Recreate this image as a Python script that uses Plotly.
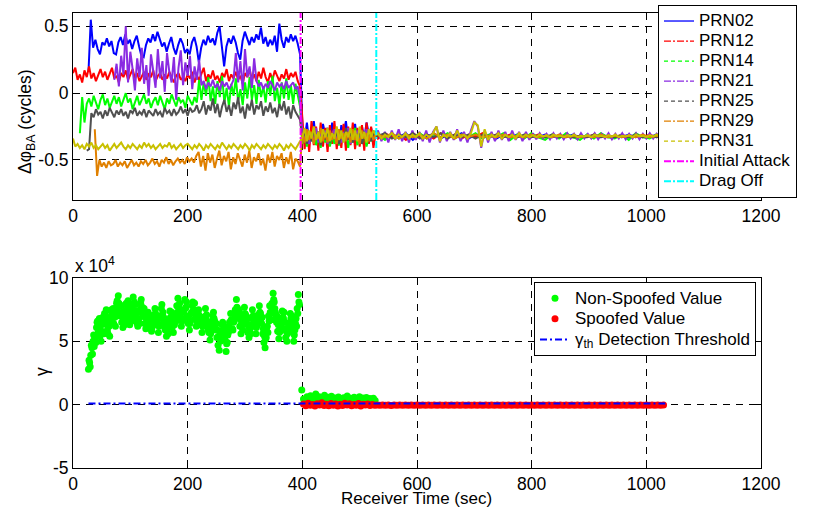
import numpy as np
import plotly.graph_objects as go

# ---------------- data ----------------
prn_names = ['PRN02', 'PRN12', 'PRN14', 'PRN21', 'PRN25', 'PRN29', 'PRN31']
prn_start = [27, 0, 12, 72, 24, 38, 0]          # first sample time of each PRN (s)
pre_end, att_start, att_end, post_start, post_end = 396, 400, 528, 532, 1030
attack_time = 397
dragoff_time = 529

prn02_pre = [0.16, 0.55, 0.34, 0.40, 0.33, 0.29, 0.38, 0.36, 0.41, 0.35,
             0.39, 0.30, 0.29, 0.38, 0.42, 0.36, 0.44, 0.37, 0.40, 0.33,
             0.39, 0.43, 0.35, 0.28, 0.27, 0.36, 0.41, 0.38, 0.44, 0.39,
             0.46, 0.40, 0.35, 0.38, 0.31, 0.37, 0.42, 0.34, 0.29, 0.36,
             0.41, 0.37, 0.30, 0.33, 0.29, 0.38, 0.42, 0.35, 0.23, 0.34,
             0.40, 0.36, 0.43, 0.38, 0.41, 0.36, 0.45, 0.50, 0.33, 0.20,
             0.35, 0.41, 0.37, 0.43, 0.38, 0.30, 0.25, 0.39, 0.46, 0.40,
             0.36, 0.42, 0.38, 0.44, 0.40, 0.49, 0.37, 0.42, 0.35, 0.40,
             0.36, 0.43, 0.31, 0.52, 0.40, 0.34, 0.42, 0.38, 0.44, 0.39,
             0.43, 0.37, 0.29]
prn12_pre = [0.15, 0.19, 0.10, 0.14, 0.08, 0.17, 0.12, 0.20, 0.11, 0.15,
             0.09, 0.13, 0.18, 0.12, 0.16, 0.10, 0.14, 0.19, 0.11, 0.13,
             0.08, 0.15, 0.12, 0.17, 0.10, 0.14, 0.18, 0.11, 0.15, 0.09,
             0.13, 0.16, 0.10, 0.14, 0.12, 0.17, 0.09, 0.13, 0.15, 0.10,
             0.14, 0.11, 0.16, 0.12, 0.08, 0.13, 0.15, 0.10, 0.12, 0.09,
             0.14, 0.11, 0.16, 0.08, 0.13, 0.10, 0.15, 0.19, 0.09, 0.14,
             0.11, 0.17, 0.10, 0.13, 0.08, 0.15, 0.12, 0.18, 0.09, 0.14,
             0.11, 0.16, 0.10, 0.13, 0.07, 0.15, 0.12, 0.18, 0.10, 0.14,
             0.09, 0.16, 0.11, 0.19, 0.12, 0.08, 0.15, 0.10, 0.17, 0.13,
             0.09, 0.14, 0.11, 0.18, 0.10, 0.15, 0.12, 0.16, 0.09, 0.05]
prn14_pre = [-0.30, -0.03, -0.22, -0.08, -0.04, -0.10, -0.02, -0.07, -0.12, -0.05,
             -0.01, -0.09, -0.04, -0.11, -0.06, -0.02, -0.08, -0.03, -0.10, -0.05,
             0.00, -0.07, -0.04, -0.12, -0.06, -0.02, -0.09, -0.05, -0.01, -0.08,
             -0.04, -0.11, -0.06, -0.03, -0.09, -0.02, -0.07, -0.12, -0.04, -0.08,
             -0.01, -0.06, -0.10, -0.03, -0.07, -0.05, -0.11, -0.02, -0.06, -0.09,
             -0.03, -0.07, 0.10, -0.05, 0.08, -0.02, 0.12, -0.06, 0.05, -0.08,
             0.09, -0.03, 0.13, -0.07, 0.04, -0.10, 0.07, -0.02, 0.11, -0.06,
             0.03, -0.09, 0.08, -0.04, 0.12, -0.05, 0.06, -0.08, 0.10, -0.03,
             0.05, -0.07, 0.09, -0.02, 0.13, -0.06, 0.04, -0.09, 0.08, -0.04,
             0.11, -0.05, 0.06, -0.08, 0.07, -0.03, -0.10]
prn21_pre = [0.10, 0.22, 0.05, 0.28, 0.14, 0.50, 0.08, 0.31, 0.18, 0.02,
             0.26, 0.12, 0.34, 0.07, 0.21, -0.02, 0.29, 0.15, 0.04, 0.33,
             0.11, 0.24, 0.01, 0.30, 0.16, 0.08, 0.27, -0.05, 0.19, 0.32,
             0.06, 0.23, 0.13, 0.28, 0.03, 0.20, 0.10, 0.25,
             0.06, 0.09, 0.03, 0.08, 0.05, 0.10, 0.04, 0.07, 0.02, 0.09, 0.05, 0.08, 0.03, 0.06, 0.10,
             0.30, 0.08, 0.24, 0.02, 0.33, 0.12, 0.20, 0.04, 0.26, 0.09,
             0.05, 0.08, 0.03, 0.07, 0.04, 0.09, 0.06, 0.02, 0.08, 0.05,
             0.07, 0.03, 0.09, 0.04, 0.06, 0.08, 0.03, 0.05, -0.05]
prn25_pre = [-0.43, -0.42, -0.15, -0.18, -0.12, -0.16, -0.14, -0.19, -0.13, -0.17,
             -0.11, -0.15, -0.18, -0.13, -0.16, -0.12, -0.17, -0.14, -0.19, -0.13,
             -0.15, -0.11, -0.17, -0.14, -0.16, -0.12, -0.18, -0.13, -0.15, -0.17,
             -0.12, -0.16, -0.14, -0.18, -0.11, -0.15, -0.13, -0.17, -0.12, -0.16,
             -0.14, -0.10, -0.15, -0.12, -0.17, -0.11, -0.14, -0.13, -0.09, -0.15,
             -0.12, -0.06, -0.16, -0.09, -0.13, -0.04, -0.15, -0.08, -0.18, -0.10,
             -0.05, -0.14, -0.09, -0.17, -0.07, -0.12, -0.03, -0.15, -0.10, -0.19,
             -0.08, -0.13, -0.05, -0.16, -0.09, -0.12, -0.06, -0.17, -0.10, -0.14,
             -0.07, -0.15, -0.11, -0.18, -0.08, -0.13, -0.06, -0.16, -0.10, -0.19,
             -0.09, -0.14, -0.17, -0.20]
prn29_pre = [-0.27, -0.62, -0.50, -0.55, -0.52, -0.56, -0.51, -0.54, -0.53, -0.50,
             -0.55, -0.52, -0.54, -0.51, -0.56, -0.53, -0.50, -0.54, -0.52, -0.55,
             -0.51, -0.53, -0.50, -0.54, -0.52, -0.49, -0.53, -0.51, -0.55, -0.50,
             -0.52, -0.48, -0.53, -0.50, -0.54, -0.51, -0.49, -0.52, -0.50, -0.53,
             -0.48, -0.51, -0.49, -0.52, -0.47, -0.44, -0.55, -0.47, -0.58, -0.45,
             -0.52, -0.46, -0.56, -0.49, -0.43, -0.54, -0.47, -0.51, -0.44, -0.57,
             -0.48, -0.53, -0.45, -0.50, -0.55, -0.46, -0.52, -0.43, -0.56, -0.48,
             -0.51, -0.45, -0.54, -0.49, -0.58, -0.46, -0.52, -0.44, -0.55, -0.47,
             -0.50, -0.45, -0.56, -0.48, -0.53, -0.44, -0.57, -0.49, -0.51, -0.55]
prn31_pre = [-0.34, -0.40, -0.38, -0.41, -0.39, -0.42, -0.38, -0.40, -0.37, -0.41,
             -0.39, -0.42, -0.40, -0.38, -0.41, -0.39, -0.43, -0.40, -0.38, -0.41,
             -0.39, -0.37, -0.40, -0.42, -0.39, -0.41, -0.38, -0.40, -0.42, -0.39,
             -0.41, -0.37, -0.40, -0.38, -0.41, -0.39, -0.42, -0.40, -0.38, -0.41,
             -0.39, -0.40, -0.37, -0.41, -0.39, -0.42, -0.40, -0.38, -0.41, -0.39,
             -0.38, -0.40, -0.42, -0.39, -0.41, -0.38, -0.40, -0.43, -0.39, -0.41,
             -0.38, -0.40, -0.42, -0.39, -0.41, -0.37, -0.40, -0.42, -0.39, -0.41,
             -0.38, -0.40, -0.42, -0.39, -0.41, -0.38, -0.40, -0.43, -0.39, -0.41,
             -0.38, -0.40, -0.42, -0.39, -0.41, -0.38, -0.40, -0.42, -0.39, -0.41,
             -0.38, -0.40, -0.43, -0.39, -0.41, -0.38, -0.40, -0.42, -0.39, -0.36]

# during the attack (400-528 s)
prn02_att = [-0.25, -0.34, -0.22, -0.37, -0.27, -0.21, -0.35, -0.29, -0.38, -0.23,
             -0.31, -0.26, -0.36, -0.22, -0.33, -0.28, -0.39, -0.24, -0.30, -0.21,
             -0.35, -0.27, -0.32, -0.23, -0.37, -0.28, -0.25, -0.34, -0.22, -0.31,
             -0.26, -0.35, -0.29]
prn12_att = [-0.23, -0.42, -0.27, -0.44, -0.21, -0.39, -0.25, -0.43, -0.22, -0.40,
             -0.26, -0.44, -0.24, -0.38, -0.21, -0.42, -0.27, -0.41, -0.23, -0.43,
             -0.25, -0.39, -0.22, -0.42, -0.26, -0.40, -0.24, -0.43, -0.22, -0.38,
             -0.25, -0.41, -0.30]
prn14_att = [-0.38, -0.28, -0.40, -0.30, -0.36, -0.26, -0.39, -0.31, -0.41, -0.27,
             -0.37, -0.29, -0.40, -0.32, -0.38, -0.27, -0.39, -0.30, -0.36, -0.28,
             -0.41, -0.31, -0.37, -0.26, -0.39, -0.30, -0.38, -0.29, -0.40, -0.32,
             -0.36, -0.28, -0.33]
prn21_att = [-0.29, -0.36, -0.27, -0.38, -0.31, -0.35, -0.26, -0.37, -0.30, -0.34,
             -0.28, -0.38, -0.31, -0.35, -0.27, -0.36, -0.30, -0.37, -0.29, -0.34,
             -0.26, -0.38, -0.31, -0.35, -0.28, -0.37, -0.30, -0.34, -0.27, -0.36,
             -0.31, -0.35, -0.32]
prn25_att = [-0.35, -0.27, -0.38, -0.30, -0.36, -0.26, -0.34, -0.29, -0.39, -0.31,
             -0.35, -0.27, -0.37, -0.30, -0.34, -0.28, -0.38, -0.31, -0.36, -0.26,
             -0.35, -0.29, -0.37, -0.30, -0.34, -0.27, -0.38, -0.31, -0.35, -0.28,
             -0.36, -0.30, -0.33]
prn29_att = [-0.30, -0.37, -0.27, -0.35, -0.29, -0.38, -0.31, -0.34, -0.26, -0.36,
             -0.30, -0.37, -0.28, -0.35, -0.31, -0.38, -0.27, -0.34, -0.30, -0.36,
             -0.29, -0.37, -0.27, -0.35, -0.31, -0.38, -0.28, -0.34, -0.30, -0.36,
             -0.29, -0.35, -0.31]
prn31_att = [-0.33, -0.26, -0.36, -0.28, -0.34, -0.25, -0.35, -0.29, -0.37, -0.27,
             -0.33, -0.26, -0.36, -0.30, -0.34, -0.25, -0.35, -0.28, -0.37, -0.29,
             -0.33, -0.26, -0.35, -0.28, -0.36, -0.25, -0.34, -0.29, -0.37, -0.27,
             -0.33, -0.28, -0.31]

# after the drag-off (532-1030 s)
prn02_post = [-0.30, -0.34, -0.31, -0.33, -0.30, -0.35, -0.31, -0.33, -0.30, -0.34,
              -0.31, -0.33, -0.30, -0.34, -0.31, -0.33, -0.31, -0.34, -0.31, -0.33,
              -0.31, -0.33, -0.32, -0.33, -0.31, -0.33, -0.32, -0.33, -0.31, -0.33,
              -0.32, -0.33, -0.31, -0.33, -0.32, -0.33, -0.31, -0.33, -0.32, -0.33,
              -0.31, -0.32]
prn12_post = [-0.34, -0.30, -0.33, -0.31, -0.35, -0.30, -0.33, -0.31, -0.34, -0.30,
              -0.33, -0.31, -0.34, -0.31, -0.33, -0.30, -0.33, -0.31, -0.33, -0.31,
              -0.33, -0.32, -0.33, -0.31, -0.33, -0.32, -0.33, -0.31, -0.33, -0.32,
              -0.33, -0.31, -0.33, -0.32, -0.33, -0.31, -0.33, -0.32, -0.33, -0.31,
              -0.33, -0.32]
prn14_post = [-0.31, -0.35, -0.30, -0.34, -0.31, -0.33, -0.30, -0.34, -0.31, -0.33,
              -0.30, -0.34, -0.31, -0.33, -0.30, -0.34, -0.31, -0.33, -0.30, -0.35,
              -0.31, -0.34, -0.30, -0.33, -0.35, -0.31, -0.34, -0.30, -0.33, -0.35,
              -0.31, -0.34, -0.30, -0.33, -0.34, -0.31, -0.35, -0.30, -0.33, -0.34,
              -0.31, -0.32]
prn21_post = [-0.28, -0.36, -0.29, -0.37, -0.28, -0.35, -0.27, -0.36, -0.29, -0.37,
              -0.28, -0.35, -0.29, -0.36, -0.28, -0.37, -0.29,
              -0.25, -0.37,
              -0.28, -0.36, -0.29, -0.35, -0.27, -0.36, -0.29, -0.37, -0.28,
              -0.21, -0.25, -0.41, -0.28, -0.37,
              -0.29, -0.36, -0.28, -0.35, -0.29, -0.36, -0.28, -0.35, -0.29, -0.36, -0.29, -0.35,
              -0.30, -0.345, -0.30, -0.34, -0.305, -0.345, -0.30, -0.34, -0.305, -0.345,
              -0.30, -0.34, -0.305, -0.345, -0.30, -0.34, -0.305, -0.34, -0.30, -0.345,
              -0.305, -0.34, -0.30, -0.345, -0.305, -0.34, -0.30, -0.345, -0.305, -0.34,
              -0.30, -0.345, -0.305, -0.34, -0.30, -0.34, -0.305, -0.345, -0.31]
prn25_post = [-0.32, -0.30, -0.34, -0.31, -0.33, -0.30, -0.34, -0.31, -0.33, -0.30,
              -0.34, -0.31, -0.33, -0.31, -0.34, -0.31, -0.33, -0.31, -0.33, -0.32,
              -0.33, -0.31, -0.33, -0.32, -0.33, -0.31, -0.33, -0.32, -0.33, -0.32,
              -0.33, -0.31, -0.33, -0.32, -0.33, -0.32, -0.33, -0.31, -0.33, -0.32,
              -0.33, -0.32]
prn29_post = [-0.31, -0.33, -0.30, -0.34, -0.31, -0.33, -0.31, -0.34, -0.30, -0.33,
              -0.31, -0.34, -0.31, -0.33, -0.31, -0.33, -0.32, -0.33, -0.31, -0.33,
              -0.32, -0.33, -0.31, -0.33, -0.32, -0.33, -0.31, -0.33, -0.32, -0.33,
              -0.32, -0.33, -0.31, -0.33, -0.32, -0.33, -0.32, -0.33, -0.31, -0.33,
              -0.32, -0.32]
prn31_post = [-0.30, -0.34, -0.31, -0.33, -0.30, -0.34, -0.31, -0.33, -0.30, -0.34,
              -0.31, -0.33, -0.30, -0.34, -0.31, -0.33, -0.30,
              -0.25, -0.36,
              -0.31, -0.33, -0.30, -0.34, -0.28, -0.33, -0.31, -0.34, -0.30,
              -0.22, -0.24, -0.40, -0.27, -0.35,
              -0.31, -0.33, -0.30, -0.34, -0.31, -0.33, -0.31, -0.34, -0.30, -0.33, -0.31, -0.33,
              -0.315, -0.33, -0.31, -0.325, -0.315, -0.33, -0.31, -0.325, -0.32, -0.33,
              -0.315, -0.325, -0.31, -0.33, -0.32, -0.325, -0.315, -0.33, -0.31, -0.325,
              -0.32, -0.33, -0.315, -0.325, -0.31, -0.33, -0.32, -0.325, -0.315, -0.33,
              -0.31, -0.325, -0.32, -0.33, -0.315, -0.325, -0.31, -0.33, -0.32]

# detection statistic gamma (units of 1e4)
gamma_pre_t = (27, 395)        # even-second samples
gamma_nonspoofed_pre = [2.8, 3.3, 3.9, 4.5, 5.0, 4.6, 5.4, 6.1, 6.6, 6.0,
                        5.4, 5.0, 5.7, 6.4, 7.2, 7.0, 6.3, 5.6, 6.2, 6.9,
                        7.5, 7.0, 6.4, 6.9, 7.6, 8.2, 8.6, 7.9, 7.1, 6.5,
                        6.1, 6.7, 7.4, 8.0, 7.6, 6.9, 6.3, 7.0, 7.8, 8.5,
                        8.1, 7.4, 6.8, 6.2, 6.8, 7.5, 8.3, 7.7, 7.0, 6.4,
                        6.0, 6.6, 7.3, 7.0, 6.3, 5.8, 6.4, 7.1, 7.6, 7.0,
                        6.3, 5.7, 6.3, 7.0, 7.9, 7.3, 6.6, 5.9, 5.4, 6.0,
                        6.7, 7.4, 6.8, 6.1, 5.7, 6.3, 7.1, 7.8, 8.4, 7.6,
                        6.9, 6.2, 6.7, 7.4, 8.3, 7.7, 7.0, 6.4, 5.9, 6.6,
                        7.3, 8.1, 7.5, 6.8, 6.2, 6.7, 7.5, 7.0, 6.3, 5.7,
                        6.2, 6.9, 7.6, 7.1, 6.4, 5.7, 5.1, 5.8, 6.6, 7.3,
                        6.6, 5.9, 5.3, 4.7, 4.3, 5.0, 5.8, 6.5, 5.8, 5.1,
                        4.2, 4.9, 5.7, 6.5, 7.2, 6.6, 5.9, 6.6, 7.5, 8.3,
                        7.6, 6.9, 6.2, 5.6, 6.3, 7.0, 7.7, 7.1, 6.4, 5.7,
                        5.3, 6.0, 6.8, 7.5, 7.0, 6.2, 5.6, 6.3, 7.1, 7.8,
                        7.2, 6.4, 5.6, 4.9, 4.5, 5.3, 6.2, 7.0, 7.8, 7.2,
                        8.0, 8.8, 8.1, 7.3, 6.5, 5.8, 5.2, 5.8, 6.6, 7.4,
                        6.8, 6.0, 5.3, 5.0, 5.7, 6.4, 7.2, 6.5, 5.8, 5.0,
                        5.9, 6.8, 7.6, 8.7, 7.9]
gamma_pre_t_b = (28, 394)      # odd-second samples
gamma_nonspoofed_pre_b = [3.5, 3.0, 4.7, 4.0, 5.5, 5.2, 4.9, 6.5, 5.7, 6.8,
                          6.2, 5.8, 6.9, 5.6, 6.5, 7.5, 5.9, 6.8, 5.4, 7.4,
                          6.6, 7.6, 7.2, 6.2, 8.0, 7.4, 8.0, 7.0, 7.8, 7.3,
                          7.0, 6.3, 7.9, 7.2, 8.2, 6.5, 7.4, 6.6, 7.2, 7.9,
                          7.1, 7.9, 6.4, 7.3, 6.4, 8.0, 7.4, 7.0, 7.6, 6.9,
                          6.9, 6.1, 6.7, 6.4, 6.9, 6.1, 7.0, 6.6, 7.2, 6.5,
                          6.9, 6.2, 6.8, 7.6, 7.1, 6.9, 6.1, 6.4, 6.1, 5.6,
                          6.2, 6.9, 7.3, 6.6, 6.4, 6.9, 6.6, 7.3, 7.8, 8.0,
                          7.4, 6.6, 7.3, 6.8, 7.6, 8.1, 6.5, 7.0, 6.4, 7.2,
                          7.8, 7.4, 8.0, 7.2, 6.6, 7.3, 6.8, 6.5, 6.9, 6.2,
                          6.7, 6.3, 7.0, 6.6, 5.9, 6.3, 5.6, 6.3, 7.0, 6.8,
                          6.1, 6.4, 5.9, 5.4, 5.2, 5.6, 6.3, 5.9, 6.2, 5.5,
                          4.8, 5.5, 6.2, 5.9, 6.7, 6.0, 6.5, 7.1, 6.9, 7.7,
                          7.1, 7.4, 6.7, 6.3, 5.9, 6.6, 7.2, 6.6, 6.9, 6.2,
                          5.9, 5.6, 6.3, 7.0, 6.5, 6.8, 6.1, 6.8, 6.6, 7.3,
                          6.8, 6.9, 6.0, 5.4, 5.2, 5.8, 5.7, 6.6, 7.3, 6.7,
                          7.5, 8.3, 7.6, 6.9, 7.0, 6.3, 5.7, 6.3, 6.1, 6.9,
                          7.3, 6.5, 5.8, 5.6, 6.2, 5.9, 6.8, 7.0, 6.3, 5.5,
                          6.4, 6.2, 7.2, 8.1]
gamma_att_t = (399, 527)
gamma_nonspoofed_att = [1.16, 0.45, 0.25, 0.62, 0.38, 0.70, 0.30, 0.55, 0.85, 0.40,
                        0.62, 0.28, 0.50, 0.75, 0.35, 0.58, 0.42, 0.66, 0.30, 0.52,
                        0.38, 0.60, 0.45, 0.27, 0.55, 0.40, 0.68, 0.33, 0.50, 0.44,
                        0.58, 0.30, 0.47, 0.62, 0.36, 0.52, 0.41, 0.56, 0.29, 0.48,
                        0.37, 0.50, 0.32]
gamma_spoof_att_t = (402, 526)
gamma_spoofed_att = [0.05, -0.08, 0.12, -0.05, 0.02, -0.10, 0.08, -0.03, 0.15, -0.07,
                     0.04, -0.09, 0.10, -0.04, 0.06, -0.11, 0.03, -0.06, 0.11, -0.02,
                     0.07, -0.08, 0.01, -0.05, 0.09, -0.10, 0.04, -0.03, 0.06, -0.07,
                     0.02, -0.05]
gamma_spoof_post_t = (530, 1030)
gamma_spoofed_post = [-0.03, -0.05, -0.02, -0.04, -0.03, -0.06, -0.02, -0.04, -0.03, -0.05,
                      -0.02, -0.04, -0.03, -0.05, -0.03, -0.04, -0.02, -0.05, -0.03, -0.04,
                      -0.03, -0.05, -0.02, -0.04, -0.03, -0.04, -0.02, -0.05, -0.03, -0.04,
                      -0.03, -0.05, -0.02, -0.04, -0.03, -0.04, -0.03, -0.05, -0.02, -0.04,
                      -0.03, -0.04, -0.02, -0.05, -0.03, -0.04, -0.03, -0.05, -0.02, -0.04,
                      -0.03, -0.04, -0.02, -0.05, -0.03, -0.04, -0.03, -0.05, -0.02, -0.04,
                      -0.03, -0.04, -0.02, -0.05, -0.03, -0.04, -0.03, -0.05, -0.02, -0.04,
                      -0.03, -0.04, -0.02, -0.05, -0.03, -0.04, -0.03, -0.05, -0.02, -0.04,
                      -0.03, -0.04, -0.02, -0.05, -0.03, -0.04, -0.03, -0.05, -0.02, -0.04,
                      -0.03, -0.04, -0.02, -0.05, -0.03, -0.04, -0.03, -0.05, -0.02, -0.04,
                      -0.03]
threshold_t = [27, 1033]
threshold = [0.1, 0.1]

x_ticks = [0, 200, 400, 600, 800, 1000, 1200]
top_yticks = [-0.5, 0, 0.5]
top_yticklabels = ['-0.5', '0', '0.5']
bot_yticks = [-5, 0, 5, 10]
bot_yticklabels = ['-5', '0', '5', '10']
top_range = [-0.8, 0.6]
bot_range = [-5, 10]
x_range = [0, 1200]

# ---------------- styles ----------------
colors = ['#0000FF', '#FF0000', '#00FF00', '#8A2BE2', '#505050', '#E08000', '#C8C000']
dashes = ['solid', '7px,2px,2px,2px', '4px,3px', '7px,2px,2px,2px', '4px,3px',
          '7px,2px,2px,2px', '4px,3px']
FONT = 'Liberation Sans, Arial, sans-serif'
TXT = 17.5
W, H = 817, 508
L, R = 73, 761
TOP_T, TOP_B = 13, 200
BOT_T, BOT_B = 278, 468


def big(s, px=17):
    return '<span style="font-size:%gpx">%s</span>' % (px, s)


pre = [prn02_pre, prn12_pre, prn14_pre, prn21_pre, prn25_pre, prn29_pre, prn31_pre]
att = [prn02_att, prn12_att, prn14_att, prn21_att, prn25_att, prn29_att, prn31_att]
post = [prn02_post, prn12_post, prn14_post, prn21_post, prn25_post, prn29_post, prn31_post]

fig = go.Figure()
# noisy phase traces (drawn densely, so shown solid)
for i, name in enumerate(prn_names):
    x = np.concatenate([np.linspace(prn_start[i], pre_end, len(pre[i])),
                        np.linspace(att_start, att_end, len(att[i])),
                        np.linspace(post_start, post_end, len(post[i]))])
    y = list(pre[i]) + list(att[i]) + list(post[i])
    fig.add_trace(go.Scatter(x=x, y=y, mode='lines', name=name, showlegend=False,
                             line=dict(color=colors[i], width=2),
                             xaxis='x', yaxis='y'))
# legend entries with the series line styles
for i, name in enumerate(prn_names):
    fig.add_trace(go.Scatter(x=[None], y=[None], mode='lines', name=big(name),
                             line=dict(color=colors[i], width=1.3, dash=dashes[i]),
                             xaxis='x', yaxis='y', legend='legend'))

fig.add_trace(go.Scatter(x=[attack_time, attack_time], y=top_range, mode='lines',
                         name=big('Initial Attack'),
                         line=dict(color='#FF00FF', width=2, dash='7px,2px,2px,2px'),
                         xaxis='x', yaxis='y', legend='legend'))
fig.add_trace(go.Scatter(x=[dragoff_time, dragoff_time], y=top_range, mode='lines',
                         name=big('Drag Off'),
                         line=dict(color='#00FFFF', width=2, dash='7px,2px,2px,2px'),
                         xaxis='x', yaxis='y', legend='legend'))

gx_non = np.concatenate([np.linspace(*gamma_pre_t, len(gamma_nonspoofed_pre)),
                         np.linspace(*gamma_pre_t_b, len(gamma_nonspoofed_pre_b)),
                         np.linspace(*gamma_att_t, len(gamma_nonspoofed_att))])
gy_non = gamma_nonspoofed_pre + gamma_nonspoofed_pre_b + gamma_nonspoofed_att
gx_sp = np.concatenate([np.linspace(*gamma_spoof_att_t, len(gamma_spoofed_att)),
                        np.linspace(*gamma_spoof_post_t, len(gamma_spoofed_post))])
gy_sp = gamma_spoofed_att + gamma_spoofed_post

fig.add_trace(go.Scatter(x=gx_non, y=gy_non, mode='markers', name=big('Non-Spoofed Value'),
                         marker=dict(color='#00FF00', size=7, line=dict(width=0)),
                         xaxis='x2', yaxis='y2', legend='legend2'))
fig.add_trace(go.Scatter(x=gx_sp, y=gy_sp, mode='markers', name=big('Spoofed Value'),
                         marker=dict(color='#FF0000', size=7, line=dict(width=0)),
                         xaxis='x2', yaxis='y2', legend='legend2'))
fig.add_trace(go.Scatter(x=threshold_t, y=threshold, mode='lines',
                         name=big('γ<sub>th</sub> Detection Threshold'),
                         line=dict(color='#0000FF', width=2, dash='7px,3px,2px,3px'),
                         xaxis='x2', yaxis='y2', legend='legend2'))

axis_common = dict(showline=True, linecolor='black', linewidth=1, mirror='ticks',
                   ticks='inside', ticklen=5, tickcolor='black',
                   showgrid=True, gridcolor='black', gridwidth=1, griddash='7px,6px',
                   zeroline=False, automargin=False,
                   tickfont=dict(family=FONT, size=TXT, color='black'))

fig.update_layout(
    width=W, height=H, margin=dict(l=0, r=0, t=0, b=0, autoexpand=False),
    paper_bgcolor='white', plot_bgcolor='white',
    font=dict(family=FONT, size=TXT, color='black'),
    showlegend=True,
    xaxis=dict(domain=[L / W, R / W], range=x_range, tickvals=x_ticks, anchor='y', **axis_common),
    yaxis=dict(domain=[1 - TOP_B / H, 1 - TOP_T / H], range=top_range, tickvals=top_yticks,
               ticktext=top_yticklabels, anchor='x', **axis_common),
    xaxis2=dict(domain=[L / W, R / W], range=x_range, tickvals=x_ticks, anchor='y2', **axis_common),
    yaxis2=dict(domain=[1 - BOT_B / H, 1 - BOT_T / H], range=bot_range, tickvals=bot_yticks,
                ticktext=bot_yticklabels, anchor='x2', **axis_common),
    legend=dict(x=797 / W, y=1 - 5 / H, xanchor='right', yanchor='top',
                bgcolor='white', bordercolor='black', borderwidth=1,
                font=dict(family=FONT, size=13.1, color='black'), tracegroupgap=0),
    legend2=dict(x=756 / W, y=1 - 282 / H, xanchor='right', yanchor='top',
                 bgcolor='white', bordercolor='black', borderwidth=1,
                 font=dict(family=FONT, size=13.5, color='black'), tracegroupgap=0),
    annotations=[
        dict(text='Δφ<sub>BA</sub> (cycles)', x=26 / W, y=1 - 122 / H, xref='paper', yref='paper',
             textangle=-90, showarrow=False, xanchor='center', yanchor='middle',
             font=dict(family=FONT, size=TXT)),
        dict(text='γ', x=42 / W, y=1 - 372 / H, xref='paper', yref='paper',
             textangle=-90, showarrow=False, xanchor='center', yanchor='middle',
             font=dict(family=FONT, size=TXT)),
        dict(text='Receiver Time (sec)', x=(L + R) / 2 / W, y=1 - 498 / H, xref='paper',
             yref='paper', showarrow=False, xanchor='center', yanchor='middle',
             font=dict(family=FONT, size=17)),
        dict(text='x 10<sup>4</sup>', x=L / W, y=1 - 278 / H, xref='paper', yref='paper',
             showarrow=False, xanchor='left', yanchor='bottom',
             font=dict(family=FONT, size=TXT)),
    ],
)

fig.write_html('out.html')
